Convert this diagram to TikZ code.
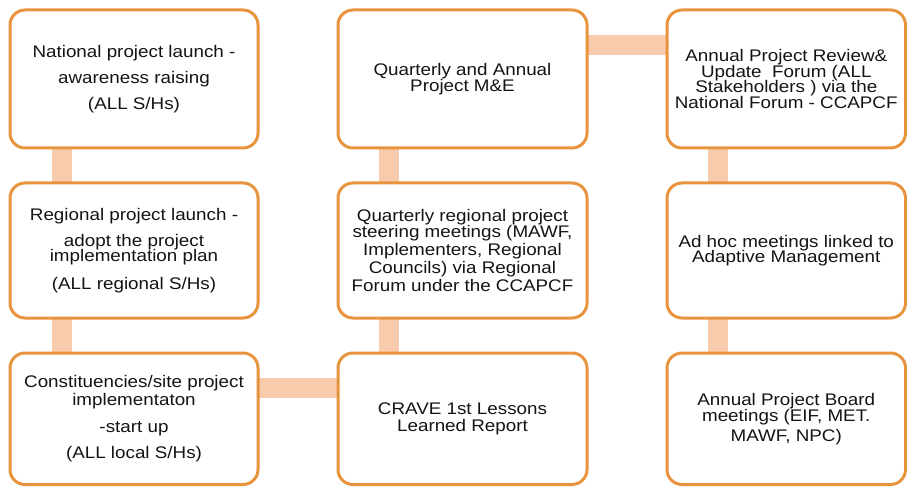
\documentclass[tikz,border=0pt]{standalone}
\usepackage{fontspec}
\setmainfont{Liberation Sans}[FakeStretch=1.12]
\usetikzlibrary{calc,backgrounds}
\definecolor{boxedge}{HTML}{E8943F}
\definecolor{linkc}{HTML}{F8CBAD}
\definecolor{txt}{HTML}{141414}
\begin{document}
\begin{tikzpicture}[x=1bp,y=-1bp,
  stage/.style={draw=boxedge, line width=3bp, rounded corners=15bp, fill=white,
    align=center, text=txt, inner sep=0pt, outer sep=0pt, anchor=north west,
    font=\fontsize{16.8bp}{16.5bp}\selectfont},
  link/.style={draw=linkc, line width=20bp}]
\useasboundingbox (0,0) rectangle (907,487);

% column 1
\node[stage, minimum width=248bp, minimum height=138bp] (A) at (10,10)
  {National project launch -\\[10bp] awareness raising\\[9bp] (ALL S/Hs)};
\node[stage, minimum width=248bp, minimum height=135bp] (B) at (10,183)
  {Regional project launch -\\[9bp] adopt the project\\[-1bp] implementation plan\\[11bp] (ALL regional S/Hs)};
\node[stage, minimum width=248bp, minimum height=131.5bp] (C) at (10,353)
  {Constituencies/site project\\[1bp] implementaton\\[11bp] -start up\\[9bp] (ALL local S/Hs)};

% column 2
\node[stage, minimum width=249bp, minimum height=138bp] (D) at (338,10)
  {Quarterly and Annual\\ Project M\&E};
\node[stage, minimum width=249bp, minimum height=135bp] (E) at (338,183)
  {Quarterly regional project\\[-0.5bp] steering meetings (MAWF,\\[2bp] Implementers, Regional\\[1bp] Councils) via Regional\\[2bp] Forum under the CCAPCF};
\node[stage, minimum width=249bp, minimum height=131.5bp] (F) at (338,353)
  {CRAVE 1st Lessons\\ Learned Report};

% column 3
\node[stage, minimum width=238.5bp, minimum height=138bp] (G) at (667,10)
  {Annual Project Review\&\\[-1bp] Update~ Forum (ALL\\[-1bp] Stakeholders ) via the\\[-1bp] National Forum - CCAPCF};
\node[stage, minimum width=238.5bp, minimum height=135bp] (H) at (667,183)
  {Ad hoc meetings linked to\\[-1bp] Adaptive Management};
\node[stage, minimum width=238.5bp, minimum height=131.5bp] (I) at (667,353)
  {Annual Project Board\\ meetings (EIF, MET.\\[3bp] MAWF, NPC)};

\begin{scope}[on background layer]
  \fill[white] (0,0) rectangle (907,487);
  \draw[link] ($(A.south west)+(52,0)$) -- ($(B.north west)+(52,0)$);
  \draw[link] ($(B.south west)+(52,0)$) -- ($(C.north west)+(52,0)$);
  \draw[link] ($(C.north east)+(0,35)$) -- ($(F.north west)+(0,35)$);
  \draw[link] ($(F.north west)+(51,0)$) -- ($(E.south west)+(51,0)$);
  \draw[link] ($(E.north west)+(51,0)$) -- ($(D.south west)+(51,0)$);
  \draw[link] ($(D.north east)+(0,35)$) -- ($(G.north west)+(0,35)$);
  \draw[link] ($(G.south west)+(51,0)$) -- ($(H.north west)+(51,0)$);
  \draw[link] ($(H.south west)+(51,0)$) -- ($(I.north west)+(51,0)$);
\end{scope}
\end{tikzpicture}
\end{document}
